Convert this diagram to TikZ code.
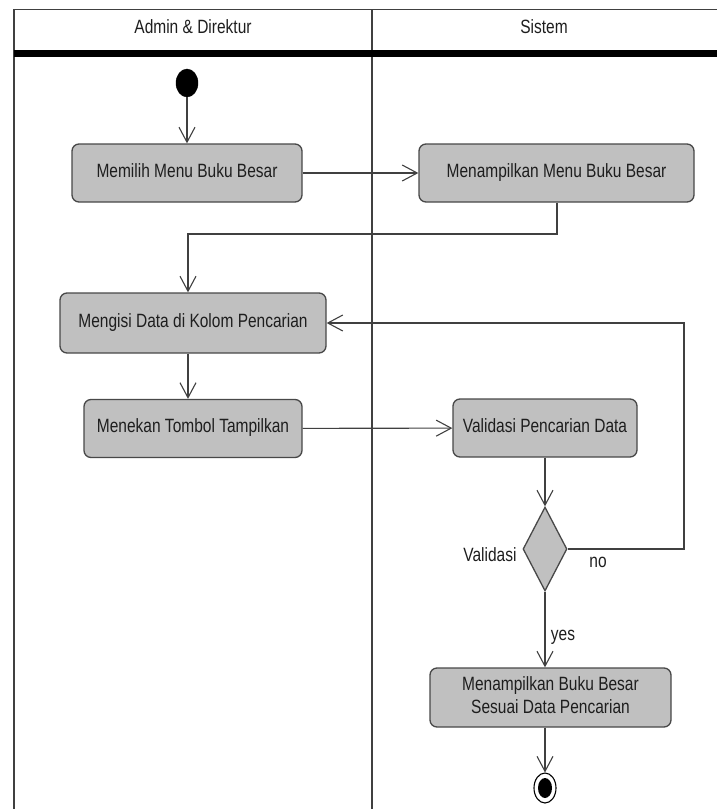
\documentclass[tikz,border=0pt]{standalone}
\usepackage{fontspec}
\setmainfont{Liberation Sans}
\usetikzlibrary{arrows.meta,shapes.geometric,calc}
\definecolor{actfill}{RGB}{192,192,192}
\definecolor{actline}{RGB}{72,72,72}
\definecolor{flowline}{RGB}{64,64,64}
\definecolor{txt}{RGB}{30,30,30}
\newcommand{\vtxt}[1]{\scalebox{1}[1.24]{\begin{tabular}{@{}c@{}}#1\end{tabular}}}
\begin{document}
\begin{tikzpicture}[x=1pt,y=-1pt,
  every node/.style={font=\fontsize{15.5}{18}\selectfont,text=txt},
  action/.style={draw=actline,fill=actfill,line width=1.3pt,rounded corners=7pt,
    inner sep=0pt,anchor=center},
  decision/.style={draw=actline,fill=actfill,line width=1.3pt,diamond,aspect=0.52,
    minimum width=44pt,minimum height=84pt,inner sep=0pt},
  flow/.style={draw=flowline,line width=1.1pt,-{Straight Barb[length=15pt,width=16pt,line width=1.1pt]}},
  lane/.style={draw=black!75,line width=1.6pt},
  lbl/.style={inner sep=0pt}]
\useasboundingbox (0,0) rectangle (717,809);

% swimlane frame
\draw[lane] (14,809) -- (14,9.5) -- (717,9.5);
\draw[lane] (372,9.5) -- (372,809);
\draw[black,line width=7pt] (14,53.5) -- (717,53.5);
\node[lbl] (laneA) at (193,29) {\vtxt{Admin \& Direktur}};
\node[lbl] (laneB) at (544,29) {\vtxt{Sistem}};

% start and end
\node[draw=black,fill=black,ellipse,minimum width=22pt,minimum height=28pt,inner sep=0pt] (start) at (187,83) {};
\node[draw=black,line width=1.1pt,ellipse,minimum width=22pt,minimum height=30pt,inner sep=0pt] (stop) at (545,788) {};
\node[fill=black,ellipse,minimum width=14pt,minimum height=20pt,inner sep=0pt] (stopdot) at (545,788) {};

% activities
\node[action,minimum width=230pt,minimum height=58pt] (a1) at (187,173) {\vtxt{Memilih Menu Buku Besar}};
\node[action,minimum width=275pt,minimum height=58pt] (a2) at (556.5,173) {\vtxt{Menampilkan Menu Buku Besar}};
\node[action,minimum width=266pt,minimum height=60pt] (a3) at (193,323) {\vtxt{Mengisi Data di Kolom Pencarian}};
\node[action,minimum width=218pt,minimum height=58pt] (a4) at (193,428.5) {\vtxt{Menekan Tombol Tampilkan}};
\node[action,minimum width=184pt,minimum height=58pt] (a5) at (545,428) {\vtxt{Validasi Pencarian Data}};
\node[decision] (d1) at (545,549) {};
\node[action,minimum width=241pt,minimum height=59pt] (a6) at (550.5,697.5) {\vtxt{Menampilkan Buku Besar\\Sesuai Data Pencarian}};

% labels of the decision
\node[lbl] (dlbl) at (490,557) {\vtxt{Validasi}};
\node[lbl] (nolbl) at (598,563) {\vtxt{no}};
\node[lbl] (yeslbl) at (563,636) {\vtxt{yes}};

% bend points
\coordinate (b1) at (557,234);
\coordinate (b2) at (684,549);

% control flow
\draw[flow] (start) -- (start |- a1.north);
\draw[flow] (a1) -- (a2);
\draw[flow] (a2.south -| b1) -- (b1) -| ($(a3.north)+(-5,0)$);
\draw[flow] ($(a3.south)+(-5,0)$) -- ($(a4.north)+(-5,0)$);
\draw[flow] (a4) -- (a5);
\draw[flow] (a5) -- (d1);
\draw[flow] (d1.east) -- (b2) |- (a3.east);
\draw[flow] (d1.south) -- (a6.north -| d1);
\draw[flow] (a6.south -| d1) -- (stop);
\end{tikzpicture}
\end{document}
